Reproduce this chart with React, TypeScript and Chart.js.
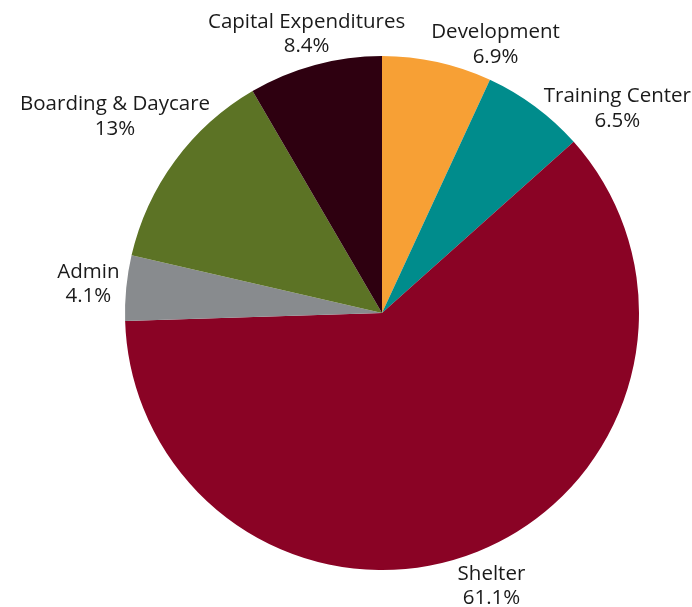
import { useEffect, useRef } from 'react';
import { Chart, registerables } from 'chart.js';

Chart.register(...registerables);

// ---- data ----
const categories = [
  'Development',
  'Training Center',
  'Shelter',
  'Admin',
  'Boarding & Daycare',
  'Capital Expenditures',
];
const shares = [6.9, 6.5, 61.1, 4.1, 13, 8.4];
const sliceColors = ['#F7A035', '#008C8C', '#8A0325', '#888B8E', '#5C7325', '#2E0010'];

const FONT_FAMILY = '"Open Sans", "Noto Sans", sans-serif';

type Box = { x0: number; x1: number; y0: number; y1: number };

// Outside labels: each label sits on its slice's mid-angle ray, just clear of the pie;
// labels are placed cyclically starting from the largest slice, and a label that would
// crowd an already placed one slides clockwise until it is clear.
const outsideLabels = {
  id: 'outsideLabels',
  afterDatasetsDraw(chart: any, _args: any, opts: any) {
    const ctx: CanvasRenderingContext2D = chart.ctx;
    const meta = chart.getDatasetMeta(0);
    const labels = chart.data.labels as string[];
    const data = chart.data.datasets[0].data as number[];
    const { fontSize, lineHeight, gap, glyphHalf, margin, pad, color, family } = opts;
    const W = chart.width;
    const H = chart.height;
    const deg = Math.PI / 180;
    ctx.save();
    ctx.font = `${fontSize}px ${family}`;
    ctx.fillStyle = color;
    ctx.textAlign = 'center';
    ctx.textBaseline = 'middle';
    const placed: Box[][] = [];

    const count = meta.data.length;
    let largest = 0;
    data.forEach((v, i) => {
      if (v > data[largest]) largest = i;
    });
    const order = Array.from({ length: count }, (_, k) => (largest + k) % count);

    order.forEach((i) => {
      const arc = meta.data[i];
      const p = arc.getProps(['x', 'y', 'startAngle', 'endAngle', 'outerRadius'], true);
      const lines = [String(labels[i]), `${data[i]}%`];
      const widths = lines.map((l) => ctx.measureText(l).width);
      const n = lines.length;
      const offs = lines.map((_, k) => (k - (n - 1) / 2) * lineHeight);
      const maxHalfW = Math.max(...widths) / 2;
      const topExt = -offs[0] + glyphHalf;
      const botExt = offs[n - 1] + glyphHalf;

      const boxesAt = (cx: number, cy: number): Box[] =>
        lines.map((_, k) => ({
          x0: cx - widths[k] / 2,
          x1: cx + widths[k] / 2,
          y0: cy + offs[k] - glyphHalf,
          y1: cy + offs[k] + glyphHalf,
        }));
      const distTo = (b: Box) => {
        const nx = Math.max(b.x0, Math.min(p.x, b.x1));
        const ny = Math.max(b.y0, Math.min(p.y, b.y1));
        return Math.hypot(nx - p.x, ny - p.y);
      };
      const clear = (bs: Box[]) => bs.every((b) => distTo(b) >= p.outerRadius + gap);
      const overlaps = (bs: Box[]) =>
        placed.some((other) =>
          other.some((o) =>
            bs.some((b) => b.x0 < o.x1 + pad && b.x1 + pad > o.x0 && b.y0 < o.y1 + pad && b.y1 + pad > o.y0)
          )
        );

      const position = (ang: number) => {
        const vx = Math.cos(ang);
        const vy = Math.sin(ang);
        let r = p.outerRadius;
        let cx = p.x;
        let cy = p.y;
        let bs: Box[] = [];
        for (let s = 0; s < 600; s++) {
          cx = p.x + vx * r;
          cy = p.y + vy * r;
          cx = Math.min(Math.max(cx, margin + maxHalfW), W - margin - maxHalfW);
          cy = Math.min(Math.max(cy, margin + topExt), H - margin - botExt);
          bs = boxesAt(cx, cy);
          if (clear(bs)) break;
          r += 0.5;
        }
        return { cx, cy, bs };
      };

      let ang = (p.startAngle + p.endAngle) / 2;
      let pos = position(ang);
      for (let t = 0; t < 180 && overlaps(pos.bs); t++) {
        ang += 0.25 * deg;
        pos = position(ang);
      }
      placed.push(pos.bs);
      lines.forEach((l, k) => ctx.fillText(l, pos.cx, pos.cy + offs[k]));
    });
    ctx.restore();
  },
};

export default function App() {
  const canvasRef = useRef<HTMLCanvasElement | null>(null);

  useEffect(() => {
    if (!canvasRef.current) return;
    const chart = new Chart(canvasRef.current, {
      type: 'pie',
      data: {
        labels: categories,
        datasets: [
          {
            data: shares,
            backgroundColor: sliceColors,
            borderWidth: 0,
          },
        ],
      },
      options: {
        responsive: false,
        animation: false,
        layout: { padding: { left: 125, right: 53, top: 56, bottom: 37 } },
        plugins: {
          legend: { display: false },
          tooltip: { enabled: false },
          outsideLabels: {
            fontSize: 20.5,
            lineHeight: 24.5,
            glyphHalf: 7.5,
            gap: 7.5,
            margin: 1,
            pad: 25,
            color: '#1a1a1a',
            family: FONT_FAMILY,
          },
        } as any,
      },
      plugins: [outsideLabels],
    });
    return () => chart.destroy();
  }, []);

  return (
    <div style={{ position: 'absolute', left: 0, top: 0, width: 692, height: 607, background: '#ffffff' }}>
      <canvas ref={canvasRef} width={692} height={607} style={{ width: 692, height: 607, display: 'block' }} />
    </div>
  );
}
